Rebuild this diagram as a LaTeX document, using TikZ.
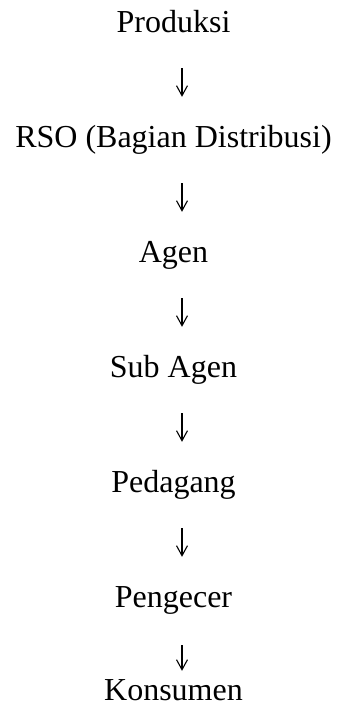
\documentclass[tikz,border=0pt]{standalone}
\usepackage{fontspec}
\setmainfont{Liberation Serif}
\usetikzlibrary{arrows.meta}
\begin{document}
\begin{tikzpicture}[x=1pt,y=1pt,
  lbl/.style={anchor=base,inner sep=0pt,text height=21pt,text depth=7pt,font=\fontsize{32}{36}\selectfont},
  arr/.style={line width=1.1pt,-{Straight Barb[length=10pt,width=11pt,line width=1.1pt]}}]
\useasboundingbox (0,0) rectangle (341,708);
\node[lbl] (p1) at (173.5,675) {Produksi};
\node[lbl] (p2) at (173.5,560) {RSO (Bagian Distribusi)};
\node[lbl] (p3) at (173.5,445) {Agen};
\node[lbl] (p4) at (173.5,330) {Sub Agen};
\node[lbl] (p5) at (173.5,215) {Pedagang};
\node[lbl] (p6) at (173.5,100) {Pengecer};
\node[lbl] (p7) at (173.5,8) {Konsumen};
\foreach \a/\b in {p1/p2,p2/p3,p3/p4,p4/p5,p5/p6}
  \draw[arr,shorten <=28pt,shorten >=30pt] ([xshift=8.5pt]\a.south) -- ([xshift=8.5pt]\b.north);
\draw[arr,shorten <=30pt,shorten >=8pt] ([xshift=8.5pt]p6.south) -- ([xshift=8.5pt]p7.north);
\end{tikzpicture}
\end{document}
